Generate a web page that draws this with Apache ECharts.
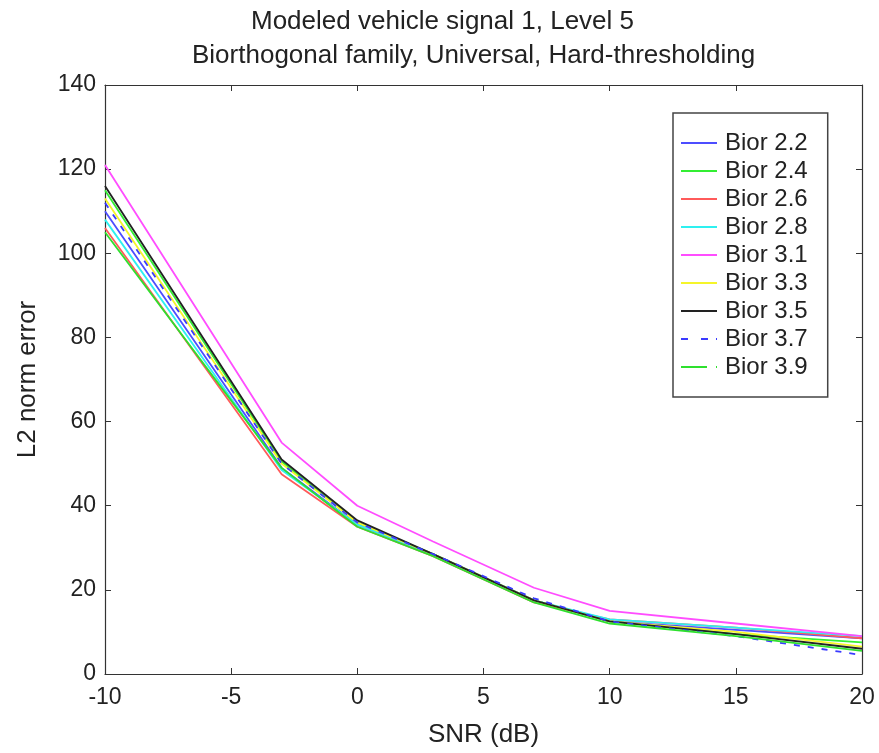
<!DOCTYPE html>
<html>
<head>
<meta charset="utf-8">
<script src="https://cdn.jsdelivr.net/npm/echarts@6/dist/echarts.min.js"></script>
<style>
  html, body { margin: 0; padding: 0; background: #fff; }
  #chart { width: 879px; height: 753px; }
</style>
</head>
<body>
<div id="chart"></div>
<script>
// SNR levels (dB) at which the reconstruction error was evaluated
const snr = [-10, -3, 0, 3, 7, 10, 15, 20];

// L2 norm error for each biorthogonal wavelet
const bior22 = [110, 49, 35.5, 28.5, 17.5, 12.5, 10.5, 8.5];
const bior24 = [115, 50.5, 36, 28.5, 17.5, 12.5, 9.5, 7.5];
const bior26 = [106, 47.5, 35, 28, 17, 13, 11, 8.5];
const bior28 = [108, 48.5, 35.5, 28.5, 17.5, 13, 11, 9];
const bior31 = [121, 55, 40, 31.5, 20.5, 15, 12, 9];
const bior33 = [113, 50, 36, 28.5, 17.5, 12.5, 10, 6.5];
const bior35 = [116, 51, 36.5, 28.5, 17.5, 12.5, 9.5, 6];
const bior37 = [112, 50, 36, 28.5, 18, 12.5, 9, 4.5];
const bior39 = [105, 49, 35, 28, 17, 12, 9, 5.5];

const names = ['Bior 2.2', 'Bior 2.4', 'Bior 2.6', 'Bior 2.8', 'Bior 3.1',
               'Bior 3.3', 'Bior 3.5', 'Bior 3.7', 'Bior 3.9'];
const values = [bior22, bior24, bior26, bior28, bior31, bior33, bior35, bior37, bior39];
const colors = ['#4d4dff', '#33ee33', '#ff5a5a', '#2ef0f0', '#ff4dff',
                '#f5f52a', '#222222', '#3a3aff', '#2ee02e'];
const dashed = [false, false, false, false, false, false, false, true, false];

const titleLines = ['Modeled vehicle signal 1, Level 5',
                    'Biorthogonal family, Universal, Hard-thresholding'];

const font = 'Liberation Sans, Arial, sans-serif';

// legend keys: a plain stroke, two short dashes for the dashed series,
// and a shorter stroke for the last entry
const solidKey = 'path://M0,0h36v2h-36z';
const dashKey = 'path://M0,0h7v2h-7z M20,0h7v2h-7z M35,0h1v2h-1z';
const shortKey = 'path://M0,0h26v2h-26z M35,0h1v2h-1z';

const series = names.map((n, i) => ({
  name: n,
  type: 'line',
  xAxisIndex: 0,
  yAxisIndex: 0,
  symbol: 'none',
  data: snr.map((x, k) => [x, values[i][k]]),
  lineStyle: { color: colors[i], width: 1.8, type: dashed[i] ? [6, 8] : 'solid' },
  itemStyle: { color: colors[i] },
  z: 2
}));

const legendData = names.map((n, i) => ({
  name: n,
  icon: i === 7 ? dashKey : (i === 8 ? shortKey : solidKey),
  itemStyle: { color: colors[i] }
}));

const chart = echarts.init(document.getElementById('chart'), null, { renderer: 'canvas' });

const axisCommon = {
  axisLine: { show: true, onZero: false, lineStyle: { color: '#333', width: 1.2 } },
  axisTick: { show: true, inside: true, length: 6, lineStyle: { color: '#333' } },
  splitLine: { show: false }
};

chart.setOption({
  animation: false,
  backgroundColor: '#fff',
  color: colors,
  graphic: [
    { type: 'text', left: 251, top: 9, style: {
        text: titleLines[0], font: '26px ' + font, fill: '#222' } },
    { type: 'text', left: 192, top: 43, style: {
        text: titleLines[1], font: '26px ' + font, fill: '#222' } }
  ],
  grid: { left: 105, top: 85, right: 17, bottom: 75, containLabel: false },
  legend: {
    orient: 'vertical',
    left: 673, top: 113,
    padding: [18, 20, 18, 8],
    itemWidth: 36,
    itemHeight: 2,
    itemGap: 4,
    borderColor: '#444', borderWidth: 1.5,
    backgroundColor: '#fff',
    textStyle: { fontFamily: font, fontSize: 24, color: '#222', lineHeight: 24, padding: [0, 0, 0, 3] },
    data: legendData
  },
  xAxis: [
    Object.assign({
      type: 'value', min: -10, max: 20, interval: 5, position: 'bottom',
      name: 'SNR (dB)', nameLocation: 'middle', nameGap: 48,
      nameTextStyle: { fontFamily: font, fontSize: 26, color: '#222' },
      axisLabel: { fontFamily: font, fontSize: 23, color: '#222', margin: 12 }
    }, axisCommon),
    Object.assign({
      type: 'value', min: -10, max: 20, interval: 5, position: 'top',
      axisLabel: { show: false }
    }, axisCommon)
  ],
  yAxis: [
    Object.assign({
      type: 'value', min: 0, max: 140, interval: 20, position: 'left',
      name: 'L2 norm error', nameLocation: 'middle', nameGap: 64,
      nameTextStyle: { fontFamily: font, fontSize: 26, color: '#222' },
      axisLabel: { fontFamily: font, fontSize: 23, color: '#222', margin: 9 }
    }, axisCommon),
    Object.assign({
      type: 'value', min: 0, max: 140, interval: 20, position: 'right',
      axisLabel: { show: false }
    }, axisCommon)
  ],
  series: series
});
</script>
</body>
</html>
